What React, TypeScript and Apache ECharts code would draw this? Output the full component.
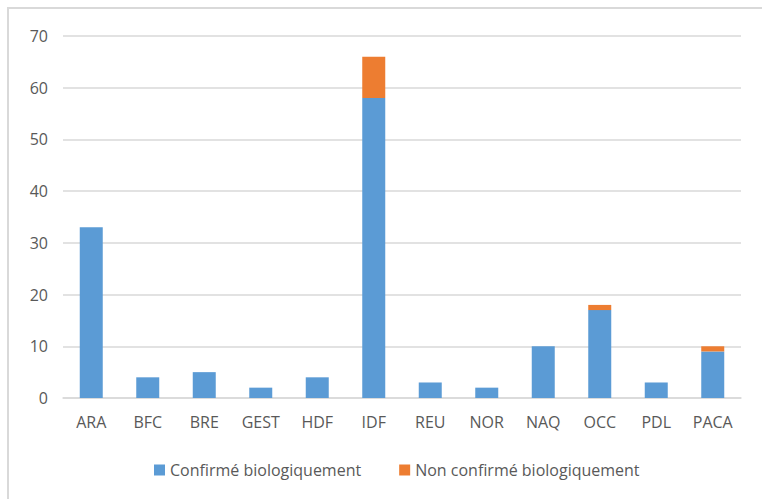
import React, { useEffect, useRef } from "react";
import * as echarts from "echarts";

const categories = ["ARA", "BFC", "BRE", "GEST", "HDF", "IDF", "REU", "NOR", "NAQ", "OCC", "PDL", "PACA"];
const confirmed = [33, 4, 5, 2, 4, 58, 3, 2, 10, 17, 3, 9];
const notConfirmed = [0, 0, 0, 0, 0, 8, 0, 0, 0, 1, 0, 1];
const seriesNames = ["Confirmé biologiquement", "Non confirmé biologiquement"];

export default function App() {
  const ref = useRef<HTMLDivElement>(null);
  useEffect(() => {
    const chart = echarts.init(ref.current!, null, { renderer: "svg" });
    const font = "Open Sans, Liberation Sans, sans-serif";
    chart.setOption({
      animation: false,
      textStyle: { fontFamily: font },
      graphic: [
        {
          type: "polyline",
          shape: { points: [[8, 499], [8, 8], [762, 8]] },
          style: { stroke: "#D9D9D9", lineWidth: 2, fill: "none" },
          silent: true,
        },
      ],
      grid: { left: 63, right: 21, top: 36, bottom: 101, containLabel: false },
      legend: {
        bottom: 16,
        left: 149,
        itemWidth: 11,
        itemHeight: 11,
        itemGap: 38,
        icon: "rect",
        textStyle: { color: "#595959", fontSize: 16, fontFamily: font },
        data: seriesNames,
      },
      xAxis: {
        type: "category",
        data: categories,
        axisLine: { lineStyle: { color: "#D9D9D9", width: 1.5 } },
        axisTick: { show: false },
        axisLabel: { color: "#595959", fontSize: 16, margin: 16, fontFamily: font },
      },
      yAxis: {
        type: "value",
        min: 0,
        max: 70,
        interval: 10,
        axisLine: { show: false },
        axisTick: { show: false },
        splitLine: { lineStyle: { color: "#D9D9D9", width: 1.5 } },
        axisLabel: { color: "#595959", fontSize: 16, margin: 15, fontFamily: font },
      },
      series: [
        {
          name: seriesNames[0],
          type: "bar",
          stack: "total",
          barWidth: 23,
          data: confirmed,
          itemStyle: { color: "#5B9BD5" },
        },
        {
          name: seriesNames[1],
          type: "bar",
          stack: "total",
          barWidth: 23,
          data: notConfirmed,
          itemStyle: { color: "#ED7D31" },
        },
      ],
    });
    return () => chart.dispose();
  }, []);
  return (
    <div
      ref={ref}
      style={{ position: "absolute", left: 0, top: 0, width: 762, height: 499, background: "#fff" }}
    />
  );
}
